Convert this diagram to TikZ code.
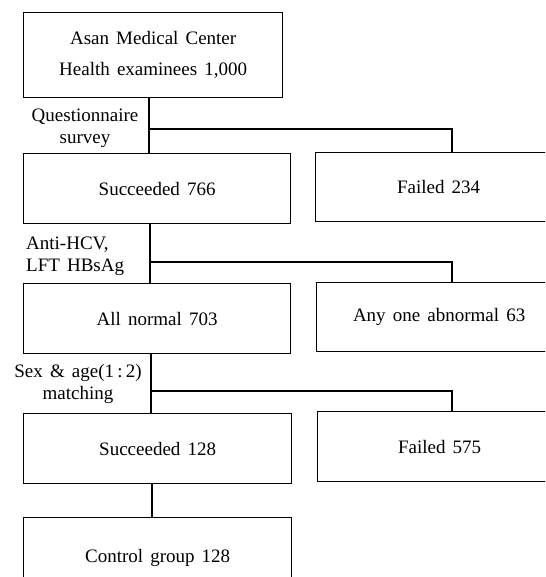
\documentclass[tikz,border=0pt]{standalone}
\usepackage{fontspec}
\setmainfont{Liberation Serif}[WordSpace=1.5]
\begin{document}
\begin{tikzpicture}[x=1pt,y=-1pt,
  box/.style={draw,line width=1.3pt,inner sep=0pt,anchor=north west,align=center,
    font=\fontsize{19}{31}\selectfont},
  lbl/.style={inner sep=0pt,font=\fontsize{19}{22}\selectfont},
  conn/.style={line width=2.4pt,line cap=rect}]
\useasboundingbox (0,0) rectangle (545,577);
\clip (0,0) rectangle (545,577);
\fill[white] (0,0) rectangle (545,577);
% boxes
\node[box,minimum width=259pt,minimum height=85pt] (top) at (23,12) {Asan Medical Center\\Health examinees 1,000};
\node[box,minimum width=267pt,minimum height=70pt] (s766) at (23,153) {Succeeded 766};
\node[box,minimum width=246pt,minimum height=69pt] (f234) at (315,152) {Failed 234};
\node[box,minimum width=267pt,minimum height=70pt] (n703) at (23,283) {All normal 703};
\node[box,minimum width=245pt,minimum height=69pt] (a63) at (316,282) {Any one abnormal 63};
\node[box,minimum width=268pt,minimum height=70pt] (s128) at (23,413) {Succeeded 128};
\node[box,minimum width=244pt,minimum height=70pt] (f575) at (317,411) {Failed 575};
\node[box,minimum width=268pt,minimum height=80pt] (ctrl) at (23,517) {Control group 128};
% labels
\node[lbl,align=center] (q) at (85,128) {Questionnaire\\survey};
\node[lbl,align=left,anchor=west] (hcv) at (26,256) {Anti-HCV,\\LFT HBsAg};
\node[lbl,align=center] (sex) at (78,384) {Sex \& age(1\,:\,2)\\matching};
% connector helper coordinates
\coordinate (t1) at (149,0);
\coordinate (t2) at (150,0);
\coordinate (t3) at (151,0);
\coordinate (t4) at (152,0);
\coordinate (cr) at (452,0);
\coordinate (j1) at (149,129);
\coordinate (j2) at (150,262);
\coordinate (j3) at (151,391);
% connectors
\draw[conn] (top.south -| t1) -- (s766.north -| t1);
\draw[conn] (j1) -| (f234.north -| cr);
\draw[conn] (s766.south -| t2) -- (n703.north -| t2);
\draw[conn] (j2) -| (a63.north -| cr);
\draw[conn] (n703.south -| t3) -- (s128.north -| t3);
\draw[conn] (j3) -| (f575.north -| cr);
\draw[conn] (s128.south -| t4) -- (ctrl.north -| t4);
\end{tikzpicture}
\end{document}
